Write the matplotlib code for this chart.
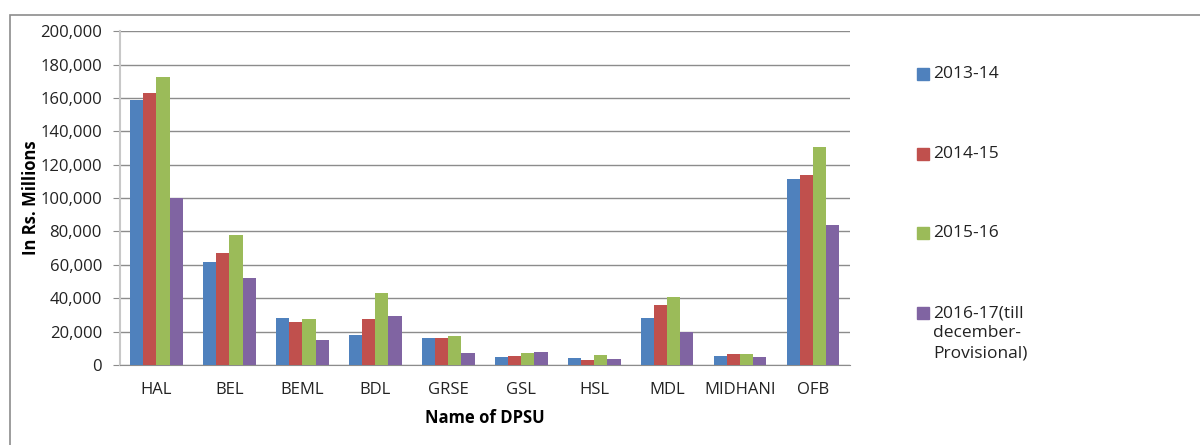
import matplotlib
matplotlib.use("Agg")
import matplotlib.pyplot as plt
import numpy as np
from matplotlib.patches import Rectangle
from matplotlib.ticker import FuncFormatter

# values (Rs. millions)
categories = ["HAL", "BEL", "BEML", "BDL", "GRSE", "GSL", "HSL", "MDL", "MIDHANI", "OFB"]
y2013_14 = [158800, 61400, 28000, 17800, 16200, 4800, 4200, 28400, 5200, 111600]
y2014_15 = [163200, 66800, 25800, 27600, 16200, 5400, 2800, 36000, 6400, 113800]
y2015_16 = [172800, 78000, 27400, 43000, 17200, 7000, 5800, 40800, 6400, 130400]
y2016_17 = [99800, 52200, 15000, 29600, 7000, 7800, 3600, 19600, 4800, 84000]
series_names = ["2013-14", "2014-15", "2015-16", "2016-17(till\ndecember-\nProvisional)"]
colors = ["#4F81BD", "#C0504D", "#9BBB59", "#8064A2"]

plt.rcParams["font.family"] = ["Open Sans", "DejaVu Sans"]

W, H = 1200, 445
fig = plt.figure(figsize=(12, 4.45), dpi=100)
ax = fig.add_axes([0.1, 0.18, 0.608, 0.75])

# outer chart border
fig.patches.append(Rectangle((10 / W, -0.1), 1.2, (H - 15) / H + 0.1,
                             transform=fig.transFigure, fill=False,
                             edgecolor="#8c8c8c", linewidth=1.2))

x = np.arange(len(categories))
w = 0.18
all_series = [y2013_14, y2014_15, y2015_16, y2016_17]
for i, vals in enumerate(all_series):
    ax.bar(x + (i - 1.5) * w, vals, w, color=colors[i], zorder=3)

ax.set_xlim(-0.5, len(categories) - 0.5)
ax.set_ylim(0, 200000)
ax.set_yticks(np.arange(0, 200001, 20000))
ax.yaxis.set_major_formatter(FuncFormatter(lambda v, p: f"{int(v):,}"))
ax.grid(axis="y", color="#8c8c8c", linewidth=1.0, zorder=0)
ax.set_xticks(x)
ax.set_xticklabels(categories)

for s in ["top", "right"]:
    ax.spines[s].set_visible(False)
ax.spines["left"].set_color("#c8c8c8")
ax.spines["left"].set_linewidth(1.5)
ax.spines["bottom"].set_color("#8c8c8c")
ax.tick_params(axis="y", length=5, color="#8c8c8c", labelsize=12, pad=8,
               labelcolor="#222222")
ax.tick_params(axis="x", length=0, labelsize=12, pad=12, labelcolor="#222222")

ax.set_ylabel("In Rs. Millions", fontsize=12, fontweight="bold", labelpad=0)
ax.set_xlabel("Name of DPSU", fontsize=12, fontweight="bold", labelpad=8)

# legend, laid out like the Excel one (entries spread down the right side)
legend_y = [74, 154, 233, 313]
for name, col, yy in zip(series_names, colors, legend_y):
    fig.patches.append(Rectangle((917 / W, 1 - (yy + 6) / H), 12 / W, 12 / H,
                                 transform=fig.transFigure, color=col))
    fig.text(933 / W, 1 - (yy - 8) / H, name, fontsize=12.5, va="top",
             ha="left", color="#222222", linespacing=1.35)

fig.savefig("out.png", dpi=100)
